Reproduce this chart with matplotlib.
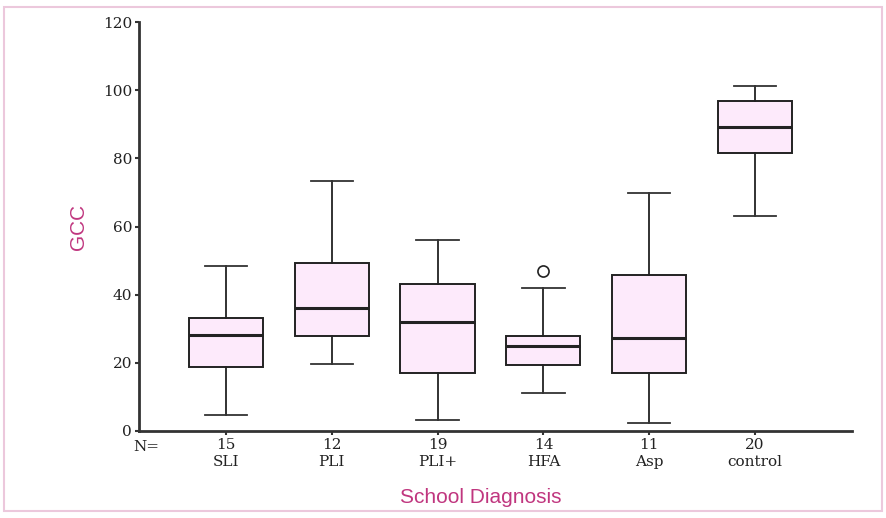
import matplotlib
matplotlib.use("Agg")
import matplotlib.pyplot as plt
from matplotlib.patches import Rectangle

categories = ["SLI", "PLI", "PLI+", "HFA", "Asp", "control"]
counts = [15, 12, 19, 14, 11, 20]
whislo = [4.6, 19.7, 3.2, 11.1, 2.3, 63.0]
q1 = [18.9, 27.9, 17.0, 19.4, 17.0, 81.6]
med = [28.2, 36.1, 32.0, 24.9, 27.3, 89.2]
q3 = [33.3, 49.2, 43.0, 27.9, 45.8, 96.8]
whishi = [48.5, 73.4, 56.0, 42.0, 69.8, 101.2]
outliers = [[], [], [], [47.0], [], []]

stats = []
for i in range(len(categories)):
    stats.append(dict(whislo=whislo[i], q1=q1[i], med=med[i], q3=q3[i],
                      whishi=whishi[i], fliers=outliers[i], label=categories[i]))

fig = plt.figure(figsize=(8.87, 5.18), dpi=100)
ax = fig.add_axes([139/887, (518-431)/518, (852-139)/887, (431-22)/518])

positions = list(range(1, len(categories) + 1))
ax.bxp(stats, positions=positions, widths=0.7, patch_artist=True,
       boxprops=dict(facecolor="#fdeafb", edgecolor="#222222", linewidth=1.4),
       medianprops=dict(color="#222222", linewidth=2.2),
       whiskerprops=dict(color="#222222", linewidth=1.3),
       capprops=dict(color="#333333", linewidth=1.3),
       flierprops=dict(marker="o", markerfacecolor="none", markeredgecolor="#222222",
                       markersize=8, markeredgewidth=1.2),
       capwidths=0.4)

ax.set_xlim(0.18, 6.915)
ax.set_ylim(0, 120)
ax.set_yticks([0, 20, 40, 60, 80, 100, 120])
ax.set_xticks(positions)
ax.set_xticklabels([f"{n}\n{c}" for n, c in zip(counts, categories)],
                   family="DejaVu Serif", fontsize=11, color="#222222", linespacing=1.3)
for lab in ax.get_yticklabels():
    lab.set_family("DejaVu Serif")
    lab.set_fontsize(11)
    lab.set_color("#222222")

for s in ["top", "right"]:
    ax.spines[s].set_visible(False)
for s in ["left", "bottom"]:
    ax.spines[s].set_linewidth(2.0)
    ax.spines[s].set_color("#333333")
ax.tick_params(axis="both", length=3, width=1.5, color="#333333", pad=2)

ax.text(-0.008, -0.04, "N=", transform=ax.transAxes, ha="left", va="center",
        family="DejaVu Serif", fontsize=11, color="#222222")

label_color = "#c0367f"
ax.set_ylabel("GCC", family="Liberation Sans", fontsize=15, color=label_color)
ax.yaxis.set_label_coords(-0.072, 0.5)
ax.set_xlabel("School Diagnosis", family="Liberation Sans", fontsize=15, color=label_color)
ax.xaxis.set_label_coords(0.48, -0.14)

fig.patches.append(Rectangle((4/887, 7/518), 878/887, 504/518, transform=fig.transFigure,
                             fill=False, edgecolor="#ecc8dc", linewidth=1.5))

fig.savefig("out.png", dpi=100)
